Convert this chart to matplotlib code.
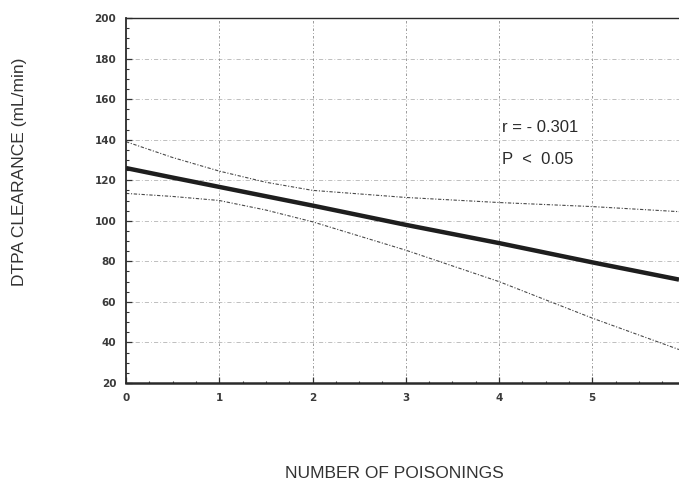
import matplotlib
matplotlib.use("Agg")
import matplotlib.pyplot as plt
from matplotlib.ticker import MultipleLocator

# values
poisonings = [0, 0.5, 1, 1.5, 2, 3, 4, 5, 5.93]
clearance_fit = [126, 121.3, 116.7, 112.1, 107.5, 98, 89, 79.5, 71]
ci_upper = [139, 131.2, 124.5, 119, 115, 111.5, 109, 107, 104.5]
ci_lower = [113.5, 112, 110, 105.3, 99.5, 85.5, 70, 52, 36.5]

y_ticks = [20, 40, 60, 80, 100, 120, 140, 160, 180, 200]
x_ticks = [0, 1, 2, 3, 4, 5]
stats_text = ["r = - 0.301", "P  <  0.05"]

fig = plt.figure(figsize=(6.79, 4.82), dpi=100)
ax = fig.add_axes([126 / 679, 1 - 383 / 482, 1 - 126 / 679, (383 - 18) / 482])

# grid: dotted horizontal rows, dash-dot verticals
for yv in y_ticks[1:-1]:
    ax.axhline(yv, color="#b4b4b4", lw=0.6, ls=(0, (5, 2.5, 1, 2.5)), zorder=1)
for xv in x_ticks[1:]:
    ax.axvline(xv, color="#8a8a8a", lw=0.6, ls=(0, (3, 2.5, 1, 2.5)), zorder=1)

ax.plot(poisonings, clearance_fit, color="#1e1e1e", lw=3.2, solid_capstyle="butt", zorder=3)
ax.plot(poisonings, ci_upper, color="#4a4a4a", lw=0.8, ls=(0, (3, 1.5, 1, 1.5)), zorder=2)
ax.plot(poisonings, ci_lower, color="#4a4a4a", lw=0.8, ls=(0, (3, 1.5, 1, 1.5)), zorder=2)

ax.set_xlim(0, 5.93)
ax.set_ylim(20, 200)
ax.set_xticks(x_ticks)
ax.set_yticks(y_ticks)
ax.yaxis.set_minor_locator(MultipleLocator(5))
ax.xaxis.set_minor_locator(MultipleLocator(0.25))

for lbl in ax.get_xticklabels() + ax.get_yticklabels():
    lbl.set_fontfamily("DejaVu Sans")
    lbl.set_fontweight("bold")
    lbl.set_fontsize(7.5)
    lbl.set_color("#3a3a3a")

ax.tick_params(which="major", direction="in", length=4, width=0.9, pad=7, color="#333333")
ax.tick_params(which="minor", direction="in", length=2.5, width=0.8, color="#333333")
ax.tick_params(axis="x", which="minor", length=1.5)

ax.spines["left"].set_linewidth(1.3)
ax.spines["bottom"].set_linewidth(1.8)
ax.spines["top"].set_linewidth(1.0)
ax.spines["right"].set_visible(False)
for s in ["left", "bottom", "top"]:
    ax.spines[s].set_color("#2a2a2a")

ax.text(4.03, 146, stats_text[0], fontsize=12, family="Liberation Sans", color="#2a2a2a", va="center")
ax.text(4.03, 130, stats_text[1], fontsize=12, family="Liberation Sans", color="#2a2a2a", va="center")

fig.text(20 / 679, 1 - 172 / 482, "DTPA CLEARANCE (mL/min)", rotation=90, fontsize=12.5,
         family="Liberation Sans", color="#333333", ha="center", va="center")
fig.text(394 / 679, 1 - 474 / 482, "NUMBER OF POISONINGS", fontsize=12.5,
         family="Liberation Sans", color="#333333", ha="center", va="center")

fig.savefig("out.png", dpi=100)
